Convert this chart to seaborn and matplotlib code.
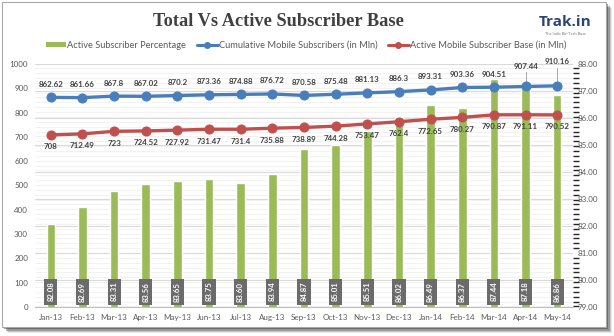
import numpy as np
import pandas as pd
import seaborn as sns
import matplotlib.pyplot as plt
from matplotlib.patches import Rectangle
from matplotlib.lines import Line2D
from matplotlib.ticker import MultipleLocator

months = ["Jan-13", "Feb-13", "Mar-13", "Apr-13", "May-13", "Jun-13", "Jul-13", "Aug-13",
          "Sep-13", "Oct-13", "Nov-13", "Dec-13", "Jan-14", "Feb-14", "Mar-14", "Apr-14", "May-14"]
active_pct = [82.08, 82.69, 83.31, 83.56, 83.65, 83.75, 83.60, 83.94, 84.87, 85.01,
              85.51, 86.02, 86.49, 86.37, 87.44, 87.18, 86.86]
cumulative = [862.62, 861.66, 867.8, 867.02, 870.2, 873.36, 874.88, 876.72, 870.58,
              875.48, 881.13, 886.3, 893.31, 903.36, 904.51, 907.44, 910.16]
active_base = [708, 712.49, 723, 724.52, 727.92, 731.47, 731.4, 735.88, 738.89, 744.28,
               753.47, 762.4, 772.65, 780.27, 790.87, 791.11, 790.52]

df = pd.DataFrame({"month": months, "pct": active_pct,
                   "cum": cumulative, "act": active_base, "idx": np.arange(len(months))})

sns.set_theme(style="white")
plt.rcParams["font.family"] = ["Lato", "DejaVu Sans"]

GREEN = "#9bbb59"
BLUE = "#4a7ebb"
RED = "#c0504d"
TXT = "#595959"

W, H = 614, 336
fig = plt.figure(figsize=(W / 100, H / 100), dpi=100)
fig.patch.set_facecolor("white")

# card with soft drop shadow
for k, a in enumerate([0.10, 0.18, 0.30, 0.45]):
    off = 6 - k * 1.2
    fig.patches.append(Rectangle(((2 + off) / W, 1 - (327 + off) / H), 604 / W, 325 / H,
                                 transform=fig.transFigure, facecolor="#303030",
                                 alpha=a, edgecolor="none", zorder=-5))
fig.patches.append(Rectangle((2 / W, 1 - 327 / H), 604 / W, 325 / H,
                             transform=fig.transFigure, facecolor="white",
                             edgecolor="#a8a8a8", linewidth=0.8, zorder=-4))

left, right, top, bottom = 35, 573, 64, 307
ax = fig.add_axes([left / W, 1 - bottom / H, (right - left) / W, (bottom - top) / H])
ax2 = ax.twinx()

# bars on the percentage axis (right)
sns.barplot(data=df, x="month", y="pct", ax=ax2, color=GREEN, width=0.27,
            saturation=1, bottom=0)
ax2.set_ylim(79, 88)
ax2.yaxis.set_minor_locator(MultipleLocator(0.18))
ax2.set_yticks(np.arange(79, 88.01, 1))
ax2.set_yticklabels([f"{v:.2f}" for v in np.arange(79, 88.01, 1)])
ax2.grid(True, which="major", color="#d9d9d9", linewidth=0.8)
ax2.grid(True, which="minor", color="#f0f0f0", linewidth=0.6)
ax2.set_axisbelow(True)
ax2.set_ylabel("")
ax2.set_xlabel("")
for i, v in enumerate(active_pct):
    ax2.text(i, 79.57, f"{v:.2f}", rotation=90, ha="center", va="center",
             fontsize=5.6, fontweight="bold", color="white",
             bbox=dict(boxstyle="square,pad=0.4", facecolor="#6b6b6b", edgecolor="none"))

# subscriber lines on the left axis
ax.set_zorder(ax2.get_zorder() + 1)
ax.patch.set_visible(False)
sns.lineplot(data=df, x="idx", y="cum", ax=ax, color=BLUE, linewidth=2.4,
             marker="o", markersize=6.5, markeredgecolor=BLUE)
sns.lineplot(data=df, x="idx", y="act", ax=ax, color=RED, linewidth=2.4,
             marker="o", markersize=6.5, markeredgecolor=RED)
ax.set_ylim(0, 1000)
ax.set_xlim(-0.5, len(months) - 0.5)
ax2.set_xlim(-0.5, len(months) - 0.5)
ax.set_yticks(np.arange(0, 1001, 100))
ax.set_ylabel("")
ax.set_xlabel("")

lab_kw = dict(ha="center", va="center", fontsize=5.7, fontweight="bold", color="#404040")
n = len(months)
px = 1000 / 243
for i, v in enumerate(cumulative):
    if i >= n - 2:
        ly = v + (20 if i == n - 2 else 24) * px
        ax.plot([i, i], [v, ly - 6 * px], color="#a6a6a6", linewidth=0.7, zorder=1)
        ax.text(i, ly, f"{v:g}", **lab_kw)
    else:
        ax.text(i, v + 13 * px, f"{v:g}", **lab_kw)
for i, v in enumerate(active_base):
    ax.text(i, v - 12 * px, f"{v:g}", **lab_kw)

ax.set_xticks(range(n))
ax.set_xticklabels(months)
for a in (ax, ax2):
    for s in a.spines.values():
        s.set_visible(False)
    a.tick_params(axis="both", length=0, labelsize=5.8, colors=TXT)
ax.spines["bottom"].set_visible(True)
ax.spines["bottom"].set_color("#bfbfbf")
ax.spines["bottom"].set_linewidth(0.8)
ax.tick_params(axis="y", pad=5)
ax2.tick_params(axis="y", pad=3)
ax.set_xticks(np.arange(-0.5, n, 1), minor=True)
ax.tick_params(axis="x", which="minor", length=3, color="#bfbfbf", width=0.6)
ax.tick_params(axis="x", which="major", pad=5)

# title, logo, legend
fig.text(278 / W, 1 - 21 / H, "Total Vs Active Subscriber Base", ha="center", va="center",
         fontsize=13.2, fontweight="bold", family="Liberation Serif", color="#404040")
fig.text(565 / W, 1 - 22 / H, "Trak.in", ha="center", va="center", fontsize=11,
         fontweight="bold", family="Open Sans", color="#2b4474")
fig.text(565 / W, 1 - 34 / H, "The India Biz-Tech Buzz", ha="center", va="center",
         fontsize=2.8, color="#7a7a7a")

handles = [Rectangle((0, 0), 1, 1, facecolor=GREEN, edgecolor="none"),
           Line2D([], [], color=BLUE, linewidth=2.2, marker="o", markersize=4),
           Line2D([], [], color=RED, linewidth=2.2, marker="o", markersize=4)]
labels = ["Active Subscriber Percentage", "Cumulative Mobile Subscribers (in Mln)",
          "Active Mobile Subscriber Base (in Mln)"]
fig.legend(handles, labels, loc="center", bbox_to_anchor=(306 / W, 1 - 45 / H), ncol=3,
           frameon=False, fontsize=6.65, labelcolor=TXT, handlelength=2.2, handleheight=0.5,
           handletextpad=0.1, columnspacing=1.2, borderpad=0)

fig.savefig("out.png", dpi=100)
